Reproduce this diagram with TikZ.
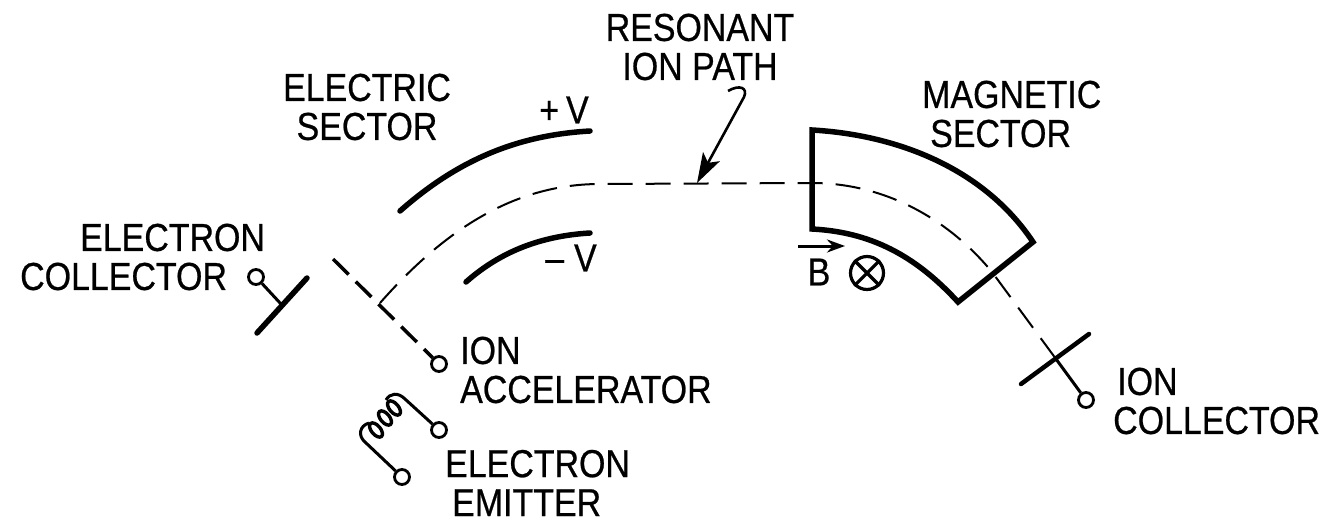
\documentclass[tikz,border=0pt]{standalone}
\usepackage{fontspec}
\setmainfont[FakeStretch=0.87,FakeBold=0.6]{Liberation Sans}
\usetikzlibrary{arrows.meta,positioning}

\begin{document}
\begin{tikzpicture}[
      x=1pt, y=-1pt,
      lbl/.style={inner sep=0pt, align=center, font=\fontsize{39}{39}\selectfont},
      lblleft/.style={lbl, align=left},
      term/.style={draw, circle, line width=2.8pt, minimum size=15pt, inner sep=0pt},
      plate/.style={line width=5.5pt, line cap=round},
      lead/.style={line width=3pt},
      beam/.style={line width=2pt, dash pattern=on 25pt off 13pt},
      arr/.style={-{Stealth[length=30pt, width=19pt, inset=7pt]}, line width=2.6pt}]
    \useasboundingbox (0,0) rectangle (1321,528);
    % labels
    \node[lbl] (respath) at (700,47) {RESONANT\\ION PATH};
    \node[lbl] (elsector) at (367,107) {ELECTRIC\\SECTOR};
    \node[lblleft, anchor=west] (magsector) at (922,114) {MAGNETIC\\\hspace*{8pt}SECTOR};
    \node[lblleft, anchor=west] (elcoll) at (20,257) {\hspace*{60pt}ELECTRON\\COLLECTOR};
    \node[lblleft, anchor=west] (ionacc) at (460,370) {ION\\ACCELERATOR};
    \node[lblleft, anchor=west] (elemit) at (445,483) {ELECTRON\\\hspace*{7pt}EMITTER};
    \node[lblleft, anchor=west] (ioncoll) at (1113,401) {\hspace*{4pt}ION\\COLLECTOR};
    \node[lbl] (plusv) at (564,110) {+\hspace{7pt}V};
    \node[lbl] (minusv) at (571,258) {–\hspace{10pt}V};
    \node[lbl] (bfield) at (819,272) {B};
    % terminals
    \node[term] (elcollterm) at (256,277) {};
    \node[term] (accterm) at (439,364) {};
    \node[term] (emtopterm) at (439,430) {};
    \node[term] (embotterm) at (402,477) {};
    \node[term] (ioncollterm) at (1086,400) {};
    \node[draw, circle, line width=3.2pt, minimum size=33pt, inner sep=0pt] (cross) at (867,273) {};
    \coordinate (elplate) at (281,304);
    \coordinate (gridhit) at (380,303);
    \coordinate (gridtop) at (333,259);
    \coordinate (pathmid) at (697,183);
    \coordinate (pathin) at (812,183);
    \coordinate (pathout) at (992,272);
    \coordinate (ionplate) at (1056,359);
    % electric sector
    \draw[plate] (400,211) .. controls (460,158) and (520,135) .. (590,131);
    \draw[plate] (466,282) .. controls (500,252) and (540,236) .. (590,233);
    % magnetic sector
    \draw[plate, line cap=butt, line join=miter] (1033,242) .. controls (985,170) and (900,135) .. (812,130)
      -- (812,229) .. controls (870,232) and (915,255) .. (958,302) -- cycle;
    % ion path
    \draw[beam] (gridhit) .. controls (440,235) and (510,184) .. (600,184) -- (pathin)
      .. controls (880,183) and (945,215) .. (pathout) -- (ionplate);
    \draw[arr] (728,91) .. controls (740,84) and (748,88) .. (744,97) -- (pathmid);
    % collectors and grid
    \draw[plate] (257,333) -- (307,278);
    \draw[lead] (elcollterm) -- (elplate);
    \draw[line width=3.5pt, dash pattern=on 22pt off 10pt] (gridtop) -- (accterm);
    \draw[plate, line width=4.5pt] (1021,384) -- (1089,334);
    \draw[lead] (ionplate) -- (ioncollterm);
    % emitter
    \draw[lead] (emtopterm) -- (405,399) .. controls (398,392) and (390,393) .. (386,400);
    \draw[lead] (embotterm) -- (365,442) .. controls (358,436) and (359,426) .. (369,423);
    \foreach \cx/\cy in {376/430, 385/418, 394/408}
      \draw[line width=3.4pt] (\cx,\cy) ellipse [x radius=8.5pt, y radius=4.5pt, rotate=-50];
    % field marks
    \draw[-{Stealth[length=18pt, width=13pt]}, line width=3pt] (798,246) -- (845,246);
    \draw[line width=3.2pt] (cross.45) -- (cross.225) (cross.135) -- (cross.315);
\end{tikzpicture}
\end{document}
